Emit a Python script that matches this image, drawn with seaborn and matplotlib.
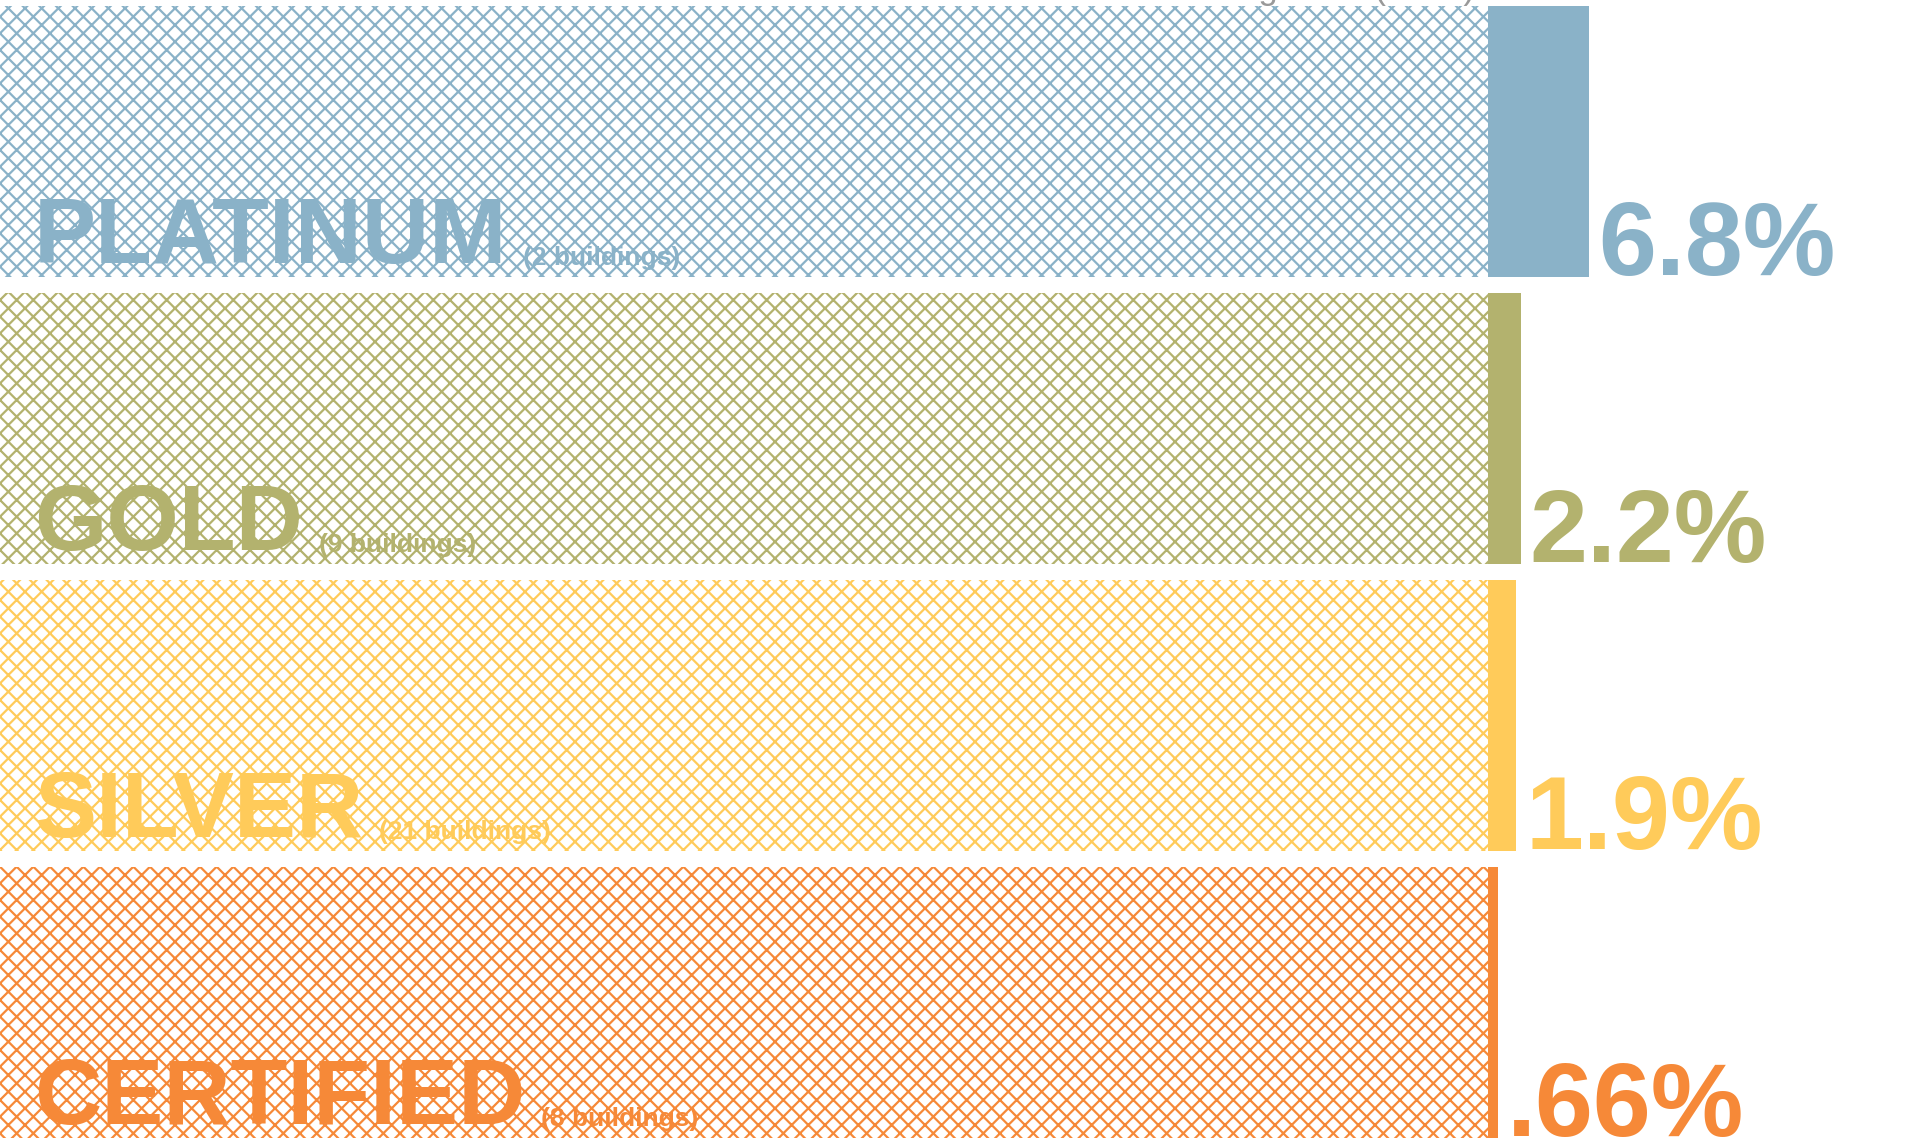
import numpy as np
import pandas as pd
import seaborn as sns
import matplotlib.pyplot as plt

levels = ["PLATINUM", "GOLD", "SILVER", "CERTIFIED"]
buildings = [2, 9, 21, 8]
base = [100, 100, 100, 100]
pct = [6.8, 2.2, 1.9, 0.66]
pct_labels = ["6.8%", "2.2%", "1.9%", ".66%"]
colors = ["#8AB2C8", "#B3B26E", "#FFCB5A", "#F68938"]

sns.set_style("white")
plt.rcParams['font.family'] = ['Liberation Sans', 'DejaVu Sans']
plt.rcParams['hatch.linewidth'] = 1.6

W, H = 1920, 1138
fig = plt.figure(figsize=(W / 100, H / 100), dpi=100)
ax = fig.add_axes([0, 0, 1, 1])

df = pd.DataFrame({"level": levels, "base": base, "pct": pct})
bar_h = 0.944

sns.barplot(data=df, x="base", y="level", hue="level", palette=colors,
            orient="h", width=bar_h, legend=False, ax=ax)
for p, c in zip(ax.patches, colors):
    p.set_facecolor("white")
    p.set_edgecolor(c)
    p.set_hatch("xx")
    p.set_linewidth(0)

ax.barh(np.arange(len(levels)), df["pct"], left=df["base"], height=bar_h,
        color=colors, linewidth=0)

xmax = 100 * W / 1488
ax.set_xlim(0, xmax)
ax.set_ylim(3.472, -0.493)
ax.axis("off")

px_x = xmax / W          # data units per pixel (x)
px_y = 1 / 287           # data units per pixel (y)

big = []
for i, (lv, c) in enumerate(zip(levels, colors)):
    bottom = i + bar_h / 2
    t = ax.text(34 * px_x, bottom - 14 * px_y, lv, color=c, fontsize=67,
                fontweight="bold", va="baseline", ha="left")
    big.append(t)
    ax.text(df["base"][i] + df["pct"][i] + 9 * px_x, bottom - 2 * px_y,
            pct_labels[i], color=c, fontsize=75, fontweight="bold",
            va="baseline", ha="left", clip_on=False)

fig.canvas.draw()
r = fig.canvas.get_renderer()
for i, (t, c) in enumerate(zip(big, colors)):
    bb = t.get_window_extent(renderer=r)
    x_end = ax.transData.inverted().transform((bb.x1, 0))[0]
    bottom = i + bar_h / 2
    ax.text(x_end + 16 * px_x, bottom - 12 * px_y,
            f"({buildings[i]} buildings)", color=c, fontsize=19,
            fontweight="bold", va="baseline", ha="left")

# title clipped at top edge
ax.text(1475 * px_x, -0.493 - 1 * px_y, "Reduction vs. neighbors (2014)",
        color="#999999", fontsize=25, ha="right", va="baseline", clip_on=False)

fig.savefig("out.png", dpi=100)
